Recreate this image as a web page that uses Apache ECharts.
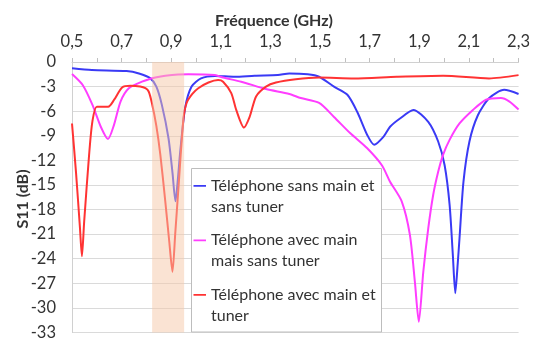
<!DOCTYPE html>
<html>
<head>
<meta charset="utf-8">
<script src="https://cdn.jsdelivr.net/npm/echarts@6/dist/echarts.min.js"></script>
<style>
  html, body { margin: 0; padding: 0; background: #fff; }
  #chart { width: 533px; height: 341px; }
</style>
</head>
<body>
<div id="chart"></div>
<script>
// S11 (dB) against frequency (GHz) for the three phone configurations
const seriesNames = [
  'Téléphone sans main et\nsans tuner',
  'Téléphone avec main\nmais sans tuner',
  'Téléphone avec main et\ntuner'
];

const sansMainSansTuner = [
  [0.5, -0.77], [0.58, -0.98], [0.72, -1.1], [0.77, -1.4], [0.816, -2.0],
  [0.84, -3.0], [0.862, -5.2], [0.889, -9.3], [0.905, -13.5], [0.917, -17.0],
  [0.927, -14.2], [0.936, -11.0], [0.956, -5.6], [0.982, -3.0], [1.02, -2.0],
  [1.076, -1.7], [1.156, -1.8], [1.236, -1.67], [1.33, -1.6], [1.376, -1.4],
  [1.45, -1.5], [1.496, -1.8], [1.556, -3.0], [1.61, -4.0], [1.65, -6.1],
  [1.69, -8.9], [1.718, -10.1], [1.756, -9.1], [1.782, -7.9], [1.822, -6.9],
  [1.876, -5.85], [1.936, -7.3], [1.976, -9.7], [2.002, -12.6], [2.022, -17.4],
  [2.035, -23.5], [2.045, -28.2], [2.055, -24.5], [2.062, -21.5], [2.078, -14.6],
  [2.102, -9.7], [2.136, -6.5], [2.182, -4.4], [2.242, -3.4], [2.3, -3.9]
];

const avecMainSansTuner = [
  [0.5, -1.46], [0.543, -2.8], [0.582, -5.2], [0.616, -7.9], [0.645, -9.4],
  [0.669, -7.7], [0.696, -4.8], [0.729, -3.2], [0.782, -2.4], [0.836, -1.9],
  [0.876, -1.67], [0.969, -1.5], [1.076, -1.6], [1.109, -1.9], [1.182, -2.4],
  [1.282, -3.3], [1.376, -3.9], [1.422, -4.4], [1.496, -5.0], [1.556, -6.7],
  [1.622, -8.7], [1.689, -10.5], [1.749, -12.6], [1.782, -14.6], [1.829, -17.0],
  [1.862, -21.1], [1.882, -26.8], [1.898, -31.7], [1.916, -25.6], [1.936, -20.3],
  [1.956, -16.2], [1.976, -13.4], [1.996, -11.3], [2.022, -9.5], [2.062, -7.5],
  [2.116, -5.85], [2.169, -4.6], [2.229, -4.4], [2.262, -4.8], [2.3, -5.8]
];

const avecMainAvecTuner = [
  [0.5, -7.5], [0.516, -13.4], [0.532, -20.2], [0.54, -23.7], [0.549, -19.5],
  [0.569, -11.3], [0.582, -7.3], [0.6, -5.45], [0.646, -5.45], [0.67, -4.6],
  [0.702, -3.1], [0.736, -2.9], [0.775, -3.0], [0.796, -3.2], [0.809, -3.6],
  [0.822, -5.0], [0.84, -7.8], [0.856, -11.3], [0.876, -17.0], [0.892, -21.9],
  [0.905, -25.6], [0.916, -21.0], [0.929, -15.4], [0.949, -7.0], [0.962, -5.0],
  [0.985, -3.9], [1.009, -3.2], [1.05, -2.5], [1.089, -2.2], [1.109, -2.4],
  [1.142, -3.8], [1.162, -5.85], [1.193, -8.0], [1.216, -6.7], [1.242, -4.2],
  [1.282, -3.0], [1.322, -2.5], [1.402, -2.1], [1.496, -1.9], [1.636, -2.0],
  [1.809, -1.8], [1.996, -1.67], [2.181, -2.0], [2.3, -1.6]
];

// Shaded frequency band (GHz)
const bandGHz = [0.823, 0.952];

const colors = ['#3a3af5', '#ff3dff', '#ff3333'];

const FONT = 'Lato, "Liberation Sans", sans-serif';
const TEXT = '#333333';

const chart = echarts.init(document.getElementById('chart'), null, { renderer: 'canvas' });

const lineSeries = [sansMainSansTuner, avecMainSansTuner, avecMainAvecTuner].map((data, i) => ({
  name: seriesNames[i],
  type: 'line',
  data: data,
  smooth: 0.25,
  showSymbol: false,
  symbol: 'none',
  z: 2,
  lineStyle: { color: colors[i], width: 2 },
  itemStyle: { color: colors[i] }
}));

chart.setOption({
  animation: false,
  grid: { left: 72, right: 10, top: 62, bottom: 8 },
  xAxis: {
    type: 'value',
    position: 'top',
    min: 0.5,
    max: 2.3,
    interval: 0.1,
    axisLine: { show: true, lineStyle: { color: '#d0d0d0', width: 1 } },
    axisTick: { show: true, length: 4, lineStyle: { color: '#c0c0c0' } },
    splitLine: { show: false },
    axisLabel: {
      margin: 12,
      color: TEXT,
      fontFamily: FONT,
      fontSize: 16.5,
      formatter: (v) => {
        const t = Math.round(v * 10);
        return t % 2 === 1 ? (t / 10).toFixed(1).replace('.', ',') : '';
      }
    }
  },
  yAxis: {
    type: 'value',
    min: -33,
    max: 0,
    interval: 3,
    axisLine: { show: true, lineStyle: { color: '#d0d0d0', width: 1 } },
    axisTick: { show: false },
    splitLine: { show: true, lineStyle: { color: '#dadada', width: 1.2 } },
    axisLabel: { margin: 16, color: TEXT, fontFamily: FONT, fontSize: 16.5 }
  },
  legend: {
    data: seriesNames,
    orient: 'vertical',
    left: 193.5,
    top: 175,
    padding: 0,
    z: 30,
    itemWidth: 12.5,
    itemHeight: 23,
    itemGap: 12.5,
    icon: 'path://M0,0H13V2H0Z M13,23H13.001V23.001Z',
    selectedMode: false,
    textStyle: { color: TEXT, fontFamily: FONT, fontSize: 16, lineHeight: 21 }
  },
  graphic: [
    {
      type: 'rect',
      z: 20,
      shape: { x: 191.5, y: 168.5, width: 190, height: 163.5 },
      style: { fill: '#ffffff', stroke: '#bdbdbd', lineWidth: 1 }
    },
    {
      type: 'text',
      x: 274, y: 21,
      style: {
        text: 'Fréquence (GHz)', fill: TEXT, font: 'bold 16px ' + FONT,
        align: 'center', verticalAlign: 'middle'
      }
    },
    {
      type: 'text',
      x: 23, y: 199,
      rotation: Math.PI / 2,
      style: {
        text: 'S11 (dB)', fill: TEXT, font: 'bold 16px ' + FONT,
        align: 'center', verticalAlign: 'middle'
      }
    }
  ],
  series: lineSeries.concat([{
    name: 'bande',
    type: 'line',
    data: [],
    z: 5,
    silent: true,
    markArea: {
      silent: true,
      z: 5,
      itemStyle: { color: 'rgba(246, 200, 168, 0.5)' },
      data: [[{ xAxis: bandGHz[0] }, { xAxis: bandGHz[1] }]]
    }
  }])
});
</script>
</body>
</html>
